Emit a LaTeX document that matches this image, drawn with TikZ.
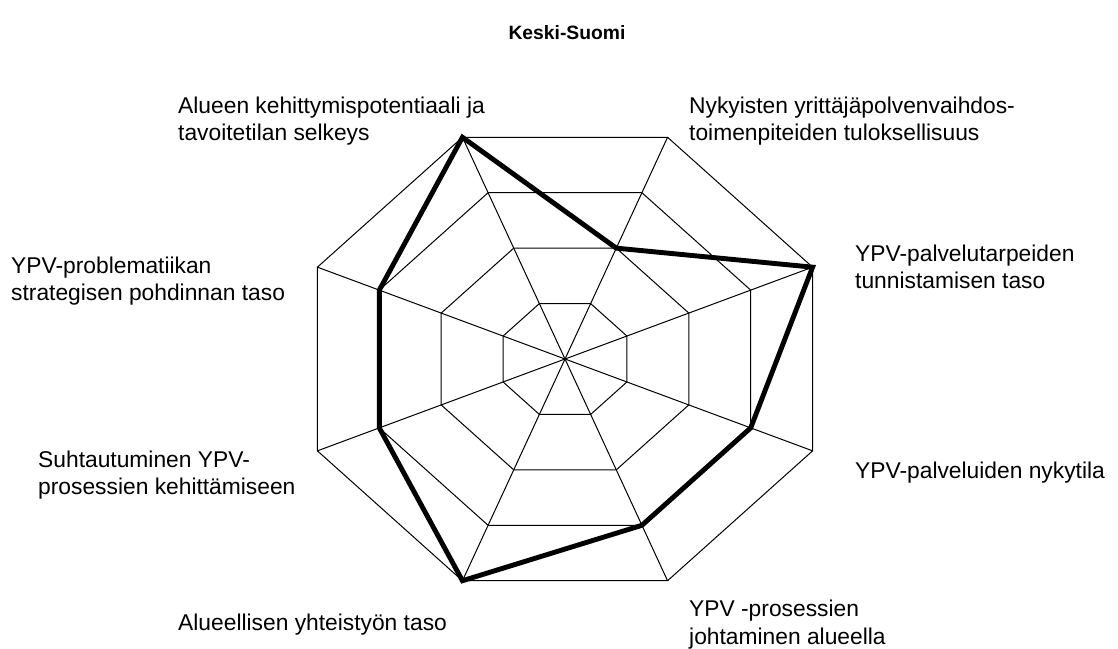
\documentclass[tikz,border=0pt]{standalone}
\usepackage{fontspec}
\setmainfont{Liberation Sans}
\usetikzlibrary{calc}
\tikzset{
  gridline/.style={draw=black, line width=1pt},
  dataline/.style={draw=black, line width=4.9pt, line join=miter},
  lab/.style={anchor=base west, inner sep=0pt, align=left, font=\fontsize{22.8}{27.5}\selectfont},
  titlelab/.style={anchor=base, inner sep=0pt, font=\fontsize{19.3}{22}\selectfont\bfseries}
}
\begin{document}
\begin{tikzpicture}[x=1pt,y=-1pt]
\useasboundingbox (0,0) rectangle (1118,648);
\coordinate (C) at (565,359);
\foreach \k in {0,...,7}{
  \pgfmathsetmacro\ang{112.5-45*\k}
  \foreach \r in {1,...,4}{
    \coordinate (v\k-\r) at ($(C)+({\r/4*268*cos(\ang)},{-\r/4*240*sin(\ang)})$);
  }
}
% grid rings
\foreach \r in {1,...,4}{
  \draw[gridline] (v0-\r) -- (v1-\r) -- (v2-\r) -- (v3-\r) -- (v4-\r) -- (v5-\r) -- (v6-\r) -- (v7-\r) -- cycle;
}
% axes
\foreach \k in {0,...,7}{
  \draw[gridline] (C) -- (v\k-4);
}
% data
\draw[dataline] (v0-4) -- (v1-2) -- (v2-4) -- (v3-3) -- (v4-3) -- (v5-4) -- (v6-3) -- (v7-3) -- cycle;
% title
\node[titlelab] (title) at (567,39) {Keski-Suomi};
% labels (base anchor = baseline of last line)
\node[lab] (l1) at (178,140.5) {Alueen kehittymispotentiaali ja\\tavoitetilan selkeys};
\node[lab] (l2) at (689,140.5) {Nykyisten yrittäjäpolvenvaihdos-\\toimenpiteiden tuloksellisuus};
\node[lab] (l3) at (855,288.5) {YPV-palvelutarpeiden\\tunnistamisen taso};
\node[lab] (l4) at (855,478) {YPV-palveluiden nykytila};
\node[lab] (l5) at (689,644) {YPV -prosessien\\johtaminen alueella};
\node[lab] (l6) at (178,630) {Alueellisen yhteistyön taso};
\node[lab] (l7) at (38,494.5) {Suhtautuminen YPV-\\prosessien kehittämiseen};
\node[lab] (l8) at (11,300.5) {YPV-problematiikan\\strategisen pohdinnan taso};
\end{tikzpicture}
\end{document}
